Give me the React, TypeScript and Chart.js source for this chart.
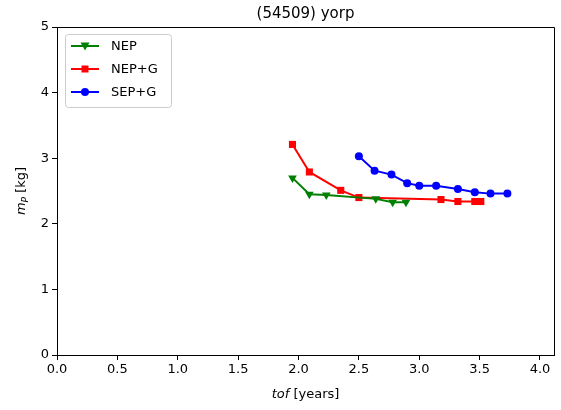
import React, { useEffect, useRef } from 'react';
import { Chart, registerables } from 'chart.js';

Chart.register(...registerables);

const titleText = '(54509) yorp';
const xTitleItalic = 'tof';
const xTitleRest = ' [years]';
const yTitleMain = 'm';
const yTitleSub = 'P';
const yTitleRest = ' [kg]';

const seriesLabels = ['NEP', 'NEP+G', 'SEP+G'];
const seriesColors = ['#008000', '#ff0000', '#0000ff'];
const seriesMarkers = ['triangleDown', 'rect', 'circle'];

const nepTof = [1.95, 2.09, 2.23, 2.64, 2.78, 2.89];
const nepMass = [2.70, 2.45, 2.44, 2.38, 2.33, 2.33];

const nepgTof = [1.95, 2.09, 2.35, 2.50, 3.18, 3.32, 3.46, 3.51];
const nepgMass = [3.21, 2.79, 2.51, 2.40, 2.37, 2.34, 2.34, 2.34];

const sepgTof = [2.50, 2.63, 2.77, 2.90, 3.00, 3.14, 3.32, 3.46, 3.59, 3.73];
const sepgMass = [3.03, 2.81, 2.75, 2.62, 2.58, 2.58, 2.53, 2.48, 2.46, 2.46];

const xTicks = [0, 0.5, 1.0, 1.5, 2.0, 2.5, 3.0, 3.5, 4.0];
const yTicks = [0, 1, 2, 3, 4, 5];
const xMin = 0;
const xMax = 4.116;
const yMin = 0;
const yMax = 5;

const FONT = "'DejaVu Sans', sans-serif";

function drawMarker(ctx: CanvasRenderingContext2D, kind: string, x: number, y: number, color: string) {
  ctx.fillStyle = color;
  ctx.beginPath();
  if (kind === 'circle') {
    ctx.arc(x, y, 4, 0, Math.PI * 2);
  } else if (kind === 'rect') {
    ctx.rect(x - 3.5, y - 3.5, 7, 7);
  } else {
    ctx.moveTo(x - 4.5, y - 3.5);
    ctx.lineTo(x + 4.5, y - 3.5);
    ctx.lineTo(x, y + 4.5);
    ctx.closePath();
  }
  ctx.fill();
}

const decorPlugin = {
  id: 'decor',
  afterDraw(chart: any) {
    const ctx: CanvasRenderingContext2D = chart.ctx;
    const a = chart.chartArea;
    ctx.save();
    // frame (top & right spines)
    ctx.strokeStyle = '#000';
    ctx.lineWidth = 1;
    ctx.beginPath();
    ctx.moveTo(Math.round(a.left) + 0.5, Math.round(a.top) + 0.5);
    ctx.lineTo(Math.round(a.right) + 0.5, Math.round(a.top) + 0.5);
    ctx.lineTo(Math.round(a.right) + 0.5, Math.round(a.bottom) + 0.5);
    ctx.stroke();

    // title
    ctx.fillStyle = '#000';
    ctx.font = `15px ${FONT}`;
    ctx.textAlign = 'center';
    ctx.textBaseline = 'alphabetic';
    ctx.fillText(titleText, (a.left + a.right) / 2, 18);

    // x title
    ctx.textAlign = 'left';
    ctx.font = `italic 13px ${FONT}`;
    const w1 = ctx.measureText(xTitleItalic).width;
    ctx.font = `13px ${FONT}`;
    const w2 = ctx.measureText(xTitleRest).width;
    const xc = (a.left + a.right) / 2;
    const sx = xc - (w1 + w2) / 2;
    ctx.font = `italic 13px ${FONT}`;
    ctx.fillText(xTitleItalic, sx, 398);
    ctx.font = `13px ${FONT}`;
    ctx.fillText(xTitleRest, sx + w1, 398);

    // y title
    ctx.save();
    ctx.translate(25, (a.top + a.bottom) / 2);
    ctx.rotate(-Math.PI / 2);
    ctx.font = `italic 13px ${FONT}`;
    const m1 = ctx.measureText(yTitleMain).width;
    ctx.font = `italic 9px ${FONT}`;
    const m2 = ctx.measureText(yTitleSub).width;
    ctx.font = `13px ${FONT}`;
    const m3 = ctx.measureText(yTitleRest).width;
    const px = -(m1 + m2 + m3) / 2;
    ctx.font = `italic 13px ${FONT}`;
    ctx.fillText(yTitleMain, px, 0);
    ctx.font = `italic 9px ${FONT}`;
    ctx.fillText(yTitleSub, px + m1, 3);
    ctx.font = `13px ${FONT}`;
    ctx.fillText(yTitleRest, px + m1 + m2, 0);
    ctx.restore();

    // legend
    const lx = a.left + 8;
    const ly = a.top + 7;
    const lw = 106;
    const lh = 73;
    ctx.fillStyle = 'rgba(255,255,255,0.8)';
    ctx.strokeStyle = '#cccccc';
    ctx.lineWidth = 1;
    ctx.beginPath();
    const r = 3;
    ctx.moveTo(lx + r + 0.5, ly + 0.5);
    ctx.arcTo(lx + lw + 0.5, ly + 0.5, lx + lw + 0.5, ly + lh + 0.5, r);
    ctx.arcTo(lx + lw + 0.5, ly + lh + 0.5, lx + 0.5, ly + lh + 0.5, r);
    ctx.arcTo(lx + 0.5, ly + lh + 0.5, lx + 0.5, ly + 0.5, r);
    ctx.arcTo(lx + 0.5, ly + 0.5, lx + lw + 0.5, ly + 0.5, r);
    ctx.closePath();
    ctx.fill();
    ctx.stroke();
    ctx.font = `13px ${FONT}`;
    ctx.textBaseline = 'middle';
    ctx.textAlign = 'left';
    seriesLabels.forEach((lab, i) => {
      const yy = ly + 12 + i * 23;
      ctx.strokeStyle = seriesColors[i];
      ctx.lineWidth = 2;
      ctx.beginPath();
      ctx.moveTo(lx + 6, yy);
      ctx.lineTo(lx + 34, yy);
      ctx.stroke();
      drawMarker(ctx, seriesMarkers[i], lx + 20, yy, seriesColors[i]);
      ctx.fillStyle = '#000';
      ctx.fillText(lab, lx + 46, yy + 1);
    });
    ctx.restore();
  },
};

function toPoints(xs: number[], ys: number[]) {
  return xs.map((x, i) => ({ x, y: ys[i] }));
}

export default function App() {
  const ref = useRef<HTMLCanvasElement | null>(null);
  useEffect(() => {
    if (!ref.current) return;
    const dataSets = [
      toPoints(nepTof, nepMass),
      toPoints(nepgTof, nepgMass),
      toPoints(sepgTof, sepgMass),
    ];
    const styleMap: any = { triangleDown: 'triangle', rect: 'rect', circle: 'circle' };
    const chart = new Chart(ref.current, {
      type: 'line',
      data: {
        datasets: dataSets.map((d, i) => ({
          label: seriesLabels[i],
          data: d,
          borderColor: seriesColors[i],
          backgroundColor: seriesColors[i],
          borderWidth: 2,
          pointStyle: styleMap[seriesMarkers[i]],
          pointRotation: seriesMarkers[i] === 'triangleDown' ? 180 : 0,
          pointRadius: seriesMarkers[i] === 'circle' ? 4 : 5,
          pointBorderWidth: 0,
          tension: 0,
          fill: false,
        })),
      },
      options: {
        animation: false,
        responsive: false,
        devicePixelRatio: 1,
        parsing: false as any,
        layout: { padding: { top: 27, right: 7, left: 0, bottom: 0 } },
        plugins: {
          legend: { display: false },
          title: { display: false },
          tooltip: { enabled: false },
        },
        scales: {
          x: {
            type: 'linear',
            min: xMin,
            max: xMax,
            afterBuildTicks: (s: any) => {
              s.ticks = xTicks.map((v) => ({ value: v }));
            },
            afterFit: (s: any) => {
              s.height = 55;
            },
            ticks: {
              color: '#000',
              font: { family: FONT, size: 13 },
              padding: 2,
              maxRotation: 0,
              autoSkip: false,
              callback: (v: any) => Number(v).toFixed(1),
            },
            grid: { drawOnChartArea: false, drawTicks: true, tickLength: 5, color: '#000' },
            border: { display: true, color: '#000', width: 1 },
          },
          y: {
            type: 'linear',
            min: yMin,
            max: yMax,
            afterBuildTicks: (s: any) => {
              s.ticks = yTicks.map((v) => ({ value: v }));
            },
            afterFit: (s: any) => {
              s.width = 57;
            },
            ticks: {
              color: '#000',
              font: { family: FONT, size: 13 },
              padding: 3,
              autoSkip: false,
              callback: (v: any) => String(v),
            },
            grid: { drawOnChartArea: false, drawTicks: true, tickLength: 5, color: '#000' },
            border: { display: true, color: '#000', width: 1 },
          },
        },
      },
      plugins: [decorPlugin],
    });
    return () => chart.destroy();
  }, []);
  return (
    <div style={{ position: 'fixed', left: 0, top: 0, width: 561, height: 410, background: '#fff' }}>
      <canvas ref={ref} width={561} height={410} />
    </div>
  );
}
